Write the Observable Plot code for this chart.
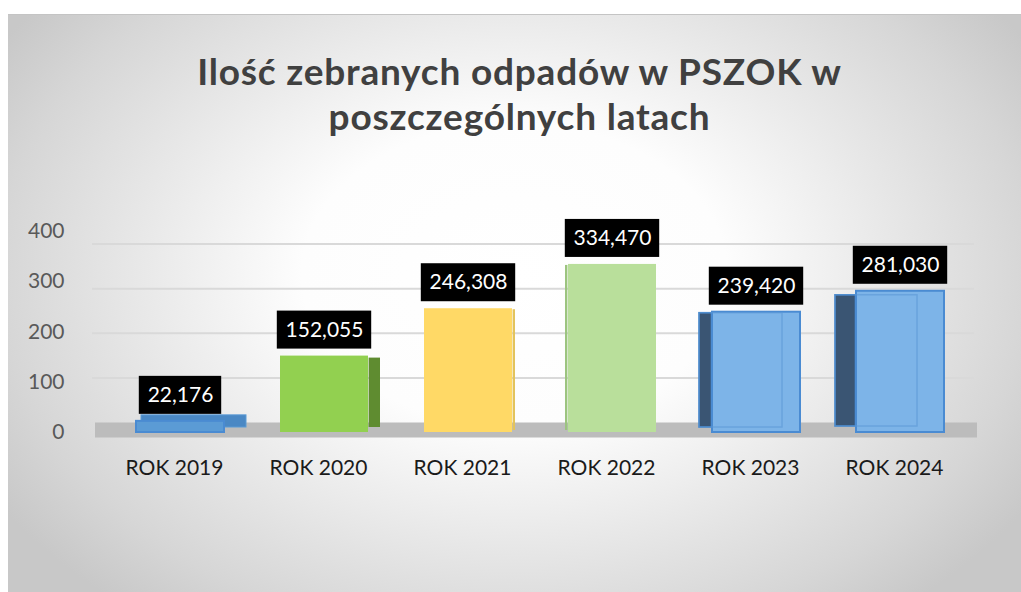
<!DOCTYPE html>
<html><head><meta charset="utf-8">
<script src="https://cdn.jsdelivr.net/npm/d3@7"></script>
<script src="https://cdn.jsdelivr.net/npm/@observablehq/plot@0.6"></script>
<style>
body{margin:0;background:#fff;font-family:Lato,sans-serif;}
#frame{position:absolute;left:8px;top:14px;width:1013px;height:578px;border-top:1px solid #c4c4c4;box-sizing:border-box;overflow:hidden;
background:radial-gradient(ellipse 60% 75% at 50% 45%, #ffffff 0%, #fdfdfd 35%, #d6d6d6 85%, #c8c8c8 100%);}
#title{height:140px;box-sizing:border-box;padding-top:33px;padding-left:10px;text-align:center;font:bold 37px/45px Lato,sans-serif;letter-spacing:0.8px;color:#404040;}
#chart svg{display:block;}
</style></head><body>
<div id="frame">
<div id="title">Ilość zebranych odpadów w PSZOK w<br>poszczególnych latach</div>
<div id="chart"></div>
</div>
<script>
// ---- data ----
const categories = ["ROK 2019", "ROK 2020", "ROK 2021", "ROK 2022", "ROK 2023", "ROK 2024"];
const values = [22.176, 152.055, 246.308, 334.470, 239.420, 281.030];
const valueLabels = ["22,176", "152,055", "246,308", "334,470", "239,420", "281,030"];
const yTicks = [0, 100, 200, 300, 400];

// ---- styles ----
const faceColors = ["#5b9bd5", "#92d050", "#ffd966", "#b9df9b", "#7db4e8", "#7db4e8"];
// back wall of the 3D chart sits slightly higher / compressed compared to the front
const backWall = v => 19.9 + 0.8876 * v;

const data = categories.map((c, i) => ({cat: c, value: values[i], label: valueLabels[i]}));
const only = (...cats) => data.filter(d => cats.includes(d.cat));
const BW = 144.6, FACE_IN = 28, DX = 6;

const chart = Plot.plot({
  width: 1013, height: 438,
  marginLeft: 92, marginRight: 53, marginTop: 76, marginBottom: 161,
  style: {background: "transparent", fontFamily: "Lato, sans-serif", overflow: "visible"},
  x: {domain: categories, padding: 0, axis: null},
  y: {domain: [0, 400], axis: null},
  color: {domain: categories, range: faceColors},
  marks: [
    // back wall gridlines
    Plot.ruleY(yTicks.slice(1), {y: d => backWall(d), stroke: "#d9d9d9", strokeWidth: 2, insetLeft: -8, insetRight: -6}),
    // floor
    Plot.ruleY([0], {stroke: "#bcbcbc", strokeWidth: 15, dy: -2.5, insetLeft: -5, insetRight: -9}),
    // 2019 slab: top + side behind the front face
    Plot.barY(only("ROK 2019"), {x: "cat", y: "value", fill: "#4a88c4", stroke: "#5b9bd5", strokeWidth: 1, insetLeft: FACE_IN + 5, insetRight: FACE_IN - 22, insetTop: -6, insetBottom: 5, dx: DX}),
    // side faces
    Plot.barY(only("ROK 2020"), {x: "cat", y: "value", fill: "#5f8c30", insetLeft: BW - FACE_IN, insetRight: FACE_IN - 12, insetTop: 2, insetBottom: 5, dx: DX}),
    Plot.barY(only("ROK 2021"), {x: "cat", y: "value", fill: "#e3c35c", insetLeft: BW - FACE_IN, insetRight: FACE_IN - 3, insetTop: 1, insetBottom: 2, dx: DX}),
    Plot.barY(only("ROK 2022"), {x: "cat", y: "value", fill: "#9cc47f", insetLeft: FACE_IN - 3, insetRight: BW - FACE_IN, insetTop: 1, insetBottom: 2, dx: DX}),
    Plot.barY(only("ROK 2023"), {x: "cat", y: "value", fill: "#3a5573", stroke: "#3f7fc4", strokeWidth: 1.5, insetLeft: FACE_IN - 13, insetRight: BW - FACE_IN, insetTop: 1, insetBottom: 5, dx: DX}),
    Plot.barY(only("ROK 2024"), {x: "cat", y: "value", fill: "#3a5573", stroke: "#3f7fc4", strokeWidth: 1.5, insetLeft: FACE_IN - 21, insetRight: BW - FACE_IN, insetTop: 4, insetBottom: 6, dx: DX}),
    // front faces
    Plot.barY(data, {x: "cat", y: "value", fill: "cat", insetLeft: FACE_IN, insetRight: FACE_IN, dx: DX}),
    // glass edges of the transparent blue boxes
    Plot.barY(only("ROK 2019", "ROK 2023", "ROK 2024"), {x: "cat", y: "value", fill: "none", stroke: "#4a8bd2", strokeWidth: 2, insetLeft: FACE_IN, insetRight: FACE_IN, dx: DX}),
    Plot.barY(only("ROK 2023"), {x: "cat", y: "value", fill: "none", stroke: "#5b97d6", strokeOpacity: 0.6, strokeWidth: 1.5, insetLeft: FACE_IN - 13, insetRight: FACE_IN + 18, insetTop: 1, insetBottom: 5, dx: DX}),
    Plot.barY(only("ROK 2024"), {x: "cat", y: "value", fill: "none", stroke: "#5b97d6", strokeOpacity: 0.6, strokeWidth: 1.5, insetLeft: FACE_IN - 21, insetRight: FACE_IN + 27, insetTop: 4, insetBottom: 6, dx: DX}),
    // label boxes
    Plot.barY(data.filter(d => d.label.length > 6), {x: "cat", y1: "value", y2: "value", fill: "black", insetLeft: (BW - 95) / 2, insetRight: (BW - 95) / 2, insetTop: -45, insetBottom: 7, dx: DX}),
    Plot.barY(data.filter(d => d.label.length <= 6), {x: "cat", y1: "value", y2: "value", fill: "black", insetLeft: (BW - 83) / 2, insetRight: (BW - 83) / 2, insetTop: -45, insetBottom: 7, dx: DX}),
    Plot.text(data, {x: "cat", y: "value", text: "label", fill: "white", fontSize: 21, dx: DX, dy: -26, lineAnchor: "middle"}),
    // axes
    Plot.axisY(yTicks, {tickSize: 0, tickPadding: 36, fontSize: 21, fill: "#595959", label: null}),
    Plot.axisX({tickSize: 0, tickPadding: 28, fontSize: 21, fill: "#1a1a1a", label: null})
  ]
});
document.getElementById("chart").appendChild(chart);
</script>
</body></html>
